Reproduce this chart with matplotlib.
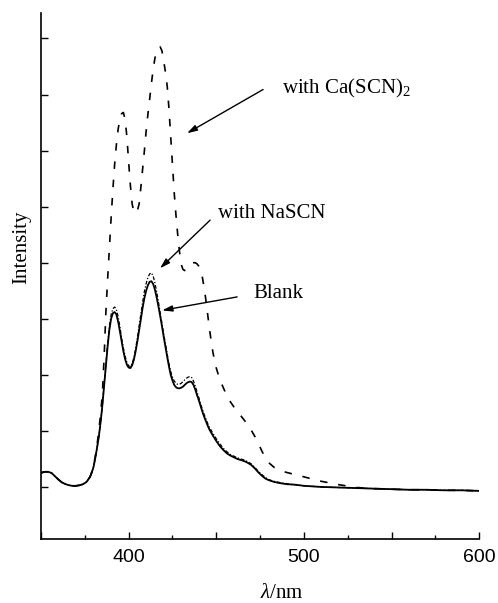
import matplotlib
matplotlib.use("Agg")
import matplotlib.pyplot as plt
from matplotlib.ticker import FixedLocator, FuncFormatter

plt.rcParams['mathtext.fontset'] = 'custom'
plt.rcParams['mathtext.rm'] = 'Liberation Serif'
plt.rcParams['mathtext.it'] = 'Liberation Serif:italic'

# ---------------- data ----------------
wl_blank = [350, 352, 354, 356, 358, 360, 362, 364, 366, 368, 370, 372, 374, 376, 378,
            379, 380, 381, 382, 383, 384, 385, 386, 387, 388, 389, 390, 391, 392, 393,
            394, 395, 396, 397, 398, 399, 400, 401, 402, 403, 404, 405, 406, 407, 408,
            409, 410, 411, 412, 413, 414, 415, 416, 417, 418, 419, 420, 421, 422, 423,
            424, 425, 426, 427, 428, 429, 430, 431, 432, 433, 434, 435, 436, 437, 438,
            439, 440, 441, 442, 443, 444, 445, 446, 448, 450, 452, 454, 456, 458, 460,
            462, 464, 466, 468, 470, 472, 474, 476, 478, 480, 483, 486, 490, 495, 500,
            510, 520, 530, 540, 550, 560, 570, 580, 590, 600]
blank = [1.25, 1.27, 1.27, 1.25, 1.19, 1.13, 1.08, 1.05, 1.03, 1.02, 1.02, 1.03, 1.05, 1.09, 1.18,
         1.26, 1.36, 1.52, 1.70, 1.90, 2.15, 2.45, 2.80, 3.15, 3.50, 3.80, 4.00, 4.10, 4.12, 4.08,
         3.95, 3.78, 3.60, 3.42, 3.28, 3.18, 3.13, 3.12, 3.17, 3.27, 3.42, 3.60, 3.80, 4.00, 4.20,
         4.37, 4.50, 4.60, 4.66, 4.67, 4.62, 4.52, 4.38, 4.22, 4.05, 3.87, 3.68, 3.50, 3.32, 3.15,
         3.00, 2.90, 2.82, 2.78, 2.76, 2.76, 2.77, 2.79, 2.82, 2.85, 2.87, 2.88, 2.87, 2.82, 2.74,
         2.64, 2.55, 2.45, 2.35, 2.26, 2.18, 2.10, 2.03, 1.92, 1.82, 1.73, 1.66, 1.60, 1.56, 1.53,
         1.50, 1.48, 1.46, 1.43, 1.39, 1.33, 1.26, 1.20, 1.15, 1.12, 1.09, 1.07, 1.05, 1.04, 1.02,
         1.00, 0.99, 0.98, 0.97, 0.96, 0.95, 0.95, 0.94, 0.94, 0.93]
nascn = [1.25, 1.27, 1.27, 1.25, 1.19, 1.13, 1.08, 1.05, 1.03, 1.02, 1.02, 1.03, 1.05, 1.09, 1.18,
         1.26, 1.36, 1.52, 1.70, 1.90, 2.15, 2.45, 2.82, 3.18, 3.55, 3.86, 4.07, 4.18, 4.21, 4.17,
         4.04, 3.86, 3.66, 3.48, 3.33, 3.22, 3.16, 3.15, 3.20, 3.31, 3.47, 3.66, 3.88, 4.09, 4.30,
         4.49, 4.63, 4.74, 4.80, 4.82, 4.76, 4.64, 4.48, 4.30, 4.11, 3.92, 3.73, 3.55, 3.37, 3.20,
         3.06, 2.96, 2.89, 2.85, 2.83, 2.83, 2.85, 2.88, 2.91, 2.94, 2.96, 2.97, 2.95, 2.89, 2.80,
         2.70, 2.60, 2.49, 2.39, 2.30, 2.22, 2.14, 2.07, 1.96, 1.86, 1.77, 1.69, 1.63, 1.58, 1.55,
         1.52, 1.50, 1.48, 1.45, 1.41, 1.35, 1.28, 1.22, 1.17, 1.13, 1.10, 1.08, 1.06, 1.04, 1.02,
         1.00, 0.99, 0.98, 0.97, 0.96, 0.95, 0.95, 0.94, 0.94, 0.93]

wl_ca = [350, 352, 354, 356, 358, 360, 362, 364, 366, 368, 370, 372, 374, 376, 378,
         379, 380, 381, 382, 383, 384, 385, 386, 387, 388, 389, 390, 391, 392, 393,
         394, 395, 396, 397, 398, 399, 400, 401, 402, 403, 404, 405, 406, 407, 408,
         409, 410, 411, 412, 413, 414, 415, 416, 417, 418, 419, 420, 421, 422, 423,
         424, 425, 426, 427, 428, 429, 430, 431, 432, 433, 434, 435, 436, 437, 438,
         439, 440, 441, 442, 443, 444, 445, 446, 447, 448, 449, 450, 452, 454, 456,
         458, 460, 462, 464, 466, 468, 470, 472, 474, 476, 478, 480, 483, 486, 490,
         495, 500, 505, 510, 520, 530, 540, 550, 560, 570, 580, 590, 600]
ca = [1.25, 1.27, 1.27, 1.25, 1.19, 1.13, 1.08, 1.05, 1.03, 1.02, 1.02, 1.03, 1.05, 1.09, 1.18,
      1.27, 1.37, 1.55, 1.75, 2.00, 2.30, 2.65, 3.30, 4.10, 4.70, 5.25, 5.80, 6.30, 6.75, 7.10,
      7.38, 7.56, 7.66, 7.68, 7.55, 7.25, 6.80, 6.38, 6.05, 5.90, 5.88, 5.93, 6.05, 6.35, 6.68,
      7.00, 7.35, 7.65, 7.92, 8.20, 8.45, 8.65, 8.77, 8.84, 8.85, 8.78, 8.60, 8.40, 8.15, 7.75,
      7.25, 6.75, 6.25, 5.85, 5.50, 5.20, 4.97, 4.88, 4.86, 4.88, 4.92, 4.96, 4.99, 5.00, 5.00,
      4.98, 4.94, 4.87, 4.75, 4.57, 4.35, 4.10, 3.85, 3.62, 3.42, 3.25, 3.12, 2.92, 2.77, 2.63,
      2.52, 2.43, 2.35, 2.27, 2.19, 2.10, 2.01, 1.90, 1.78, 1.64, 1.52, 1.43, 1.35, 1.30, 1.26,
      1.22, 1.18, 1.14, 1.10, 1.04, 0.99, 0.97, 0.96, 0.95, 0.95, 0.94, 0.94, 0.93]

xtick_vals = [350, 375, 400, 425, 450, 475, 500, 525, 550, 575, 600]
xtick_labels = {400: '400', 500: '500', 600: '600'}
ytick_vals = [1, 2, 3, 4, 5, 6, 7, 8, 9]

labels = ['with Ca(SCN)$_2$', 'with NaSCN', 'Blank']

# ---------------- figure ----------------
fig = plt.figure(figsize=(4.98, 6.03), dpi=100)
ax = fig.add_axes([0.0823, 0.106, 0.880, 0.872])

ax.plot(wl_blank, blank, color='black', lw=1.3, solid_joinstyle='round')
ax.plot(wl_blank, nascn, color='black', lw=0.9, linestyle=(0, (3, 1.5, 1, 1.5)))
ax.plot(wl_ca, ca, color='black', lw=1.2, linestyle=(0, (4.5, 6.5)))

ax.set_xlim(350, 600)
ax.set_ylim(0.07, 9.45)

for s in ['top', 'right']:
    ax.spines[s].set_visible(False)
ax.spines['left'].set_linewidth(1.2)
ax.spines['bottom'].set_linewidth(1.2)

major_x = [v for v in xtick_vals if v % 50 == 0]
minor_x = [v for v in xtick_vals if v % 50 != 0]
ax.xaxis.set_major_locator(FixedLocator(major_x))
ax.xaxis.set_minor_locator(FixedLocator(minor_x))
ax.xaxis.set_major_formatter(FuncFormatter(lambda v, p: xtick_labels.get(int(round(v)), '')))
ax.yaxis.set_major_locator(FixedLocator(ytick_vals))
ax.set_yticklabels([])
ax.tick_params(axis='x', which='major', direction='in', length=5, width=1,
               labelsize=14, pad=7)
ax.tick_params(axis='x', which='minor', direction='in', length=3, width=1)
ax.tick_params(axis='y', which='major', direction='in', length=5, width=1)
for t in ax.get_xticklabels():
    t.set_fontfamily('Liberation Sans')

ax.text(0.55, -0.103, r'$\lambda$/nm', transform=ax.transAxes, ha='center', va='center',
        fontsize=15, family='Liberation Serif')
ax.text(-0.044, 0.555, 'Intensity', transform=ax.transAxes, ha='center', va='center',
        rotation=90, fontsize=15, family='Liberation Serif')

arrow = dict(arrowstyle='-|>,head_length=0.6,head_width=0.18', color='black', lw=1.0,
             shrinkA=0, shrinkB=0)
ax.annotate('', xy=(433.3, 7.31), xytext=(476.7, 8.09), arrowprops=arrow)
ax.annotate('', xy=(417.9, 4.90), xytext=(446.5, 5.76), arrowprops=arrow)
ax.annotate('', xy=(419.1, 4.15), xytext=(461.9, 4.39), arrowprops=arrow)

ax.text(487.6, 8.02, labels[0], ha='left', va='baseline', fontsize=15, family='Liberation Serif')
ax.text(451.0, 5.79, labels[1], ha='left', va='baseline', fontsize=15, family='Liberation Serif')
ax.text(471.0, 4.37, labels[2], ha='left', va='baseline', fontsize=15, family='Liberation Serif')

fig.savefig('out.png', dpi=100)
